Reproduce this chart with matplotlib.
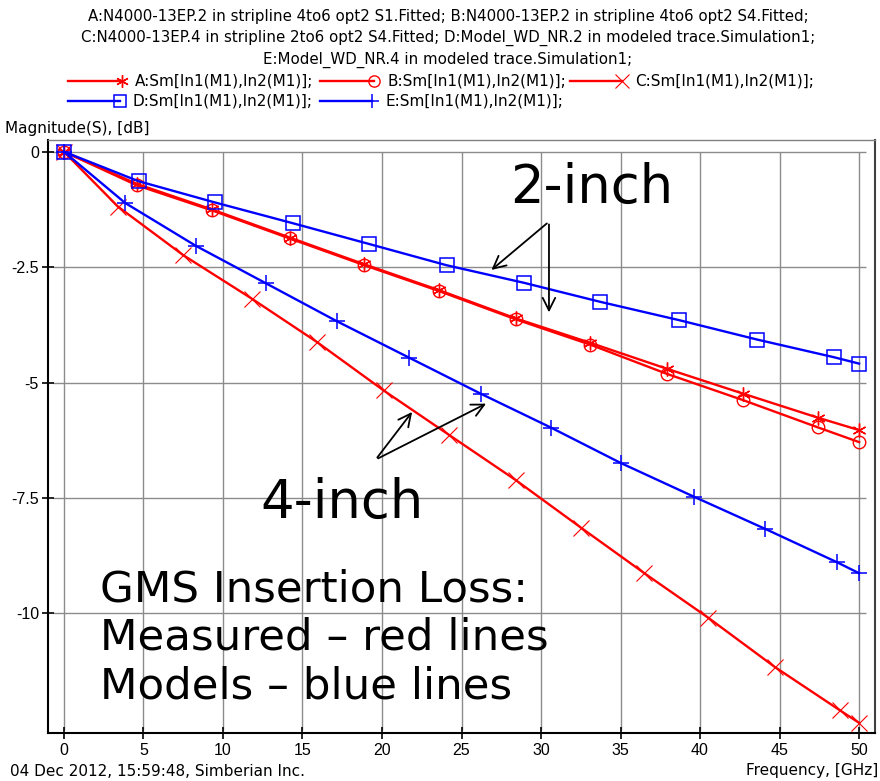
import matplotlib
matplotlib.use("Agg")
import matplotlib.pyplot as plt
from matplotlib.lines import Line2D

# Measured (red) and model (blue) insertion loss, dB vs GHz
freq_AB = [0, 4.6, 9.3, 14.2, 18.9, 23.6, 28.4, 33.1, 37.9, 42.7, 47.4, 50]
loss_A = [0, -0.70, -1.25, -1.86, -2.44, -3.00, -3.61, -4.14, -4.70, -5.24, -5.76, -6.03]
loss_B = [0, -0.73, -1.27, -1.88, -2.46, -3.02, -3.63, -4.18, -4.81, -5.38, -5.97, -6.29]

freq_C = [0, 3.4, 7.5, 11.8, 15.9, 20.1, 24.2, 28.4, 32.5, 36.5, 40.5, 44.7, 48.8, 50]
loss_C = [0, -1.19, -2.24, -3.18, -4.12, -5.17, -6.13, -7.11, -8.14, -9.13, -10.09, -11.16, -12.10, -12.37]

freq_D = [0, 4.7, 9.5, 14.4, 19.2, 24.07, 28.93, 33.7, 38.7, 43.6, 48.4, 50]
loss_D = [0, -0.64, -1.10, -1.55, -2.00, -2.46, -2.84, -3.25, -3.65, -4.07, -4.45, -4.59]

freq_E = [0, 3.85, 8.3, 12.7, 17.15, 21.7, 26.2, 30.65, 35.0, 39.6, 44.1, 48.6, 50]
loss_E = [0, -1.11, -2.04, -2.85, -3.67, -4.46, -5.24, -5.98, -6.74, -7.47, -8.17, -8.89, -9.13]

x_ticks = [0, 5, 10, 15, 20, 25, 30, 35, 40, 45, 50]
y_ticks = [0, -2.5, -5, -7.5, -10]
y_ticklabels = ["0", "-2.5", "-5", "-7.5", "-10"]

header_lines = [
    "A:N4000-13EP.2 in stripline 4to6 opt2 S1.Fitted; B:N4000-13EP.2 in stripline 4to6 opt2 S4.Fitted;",
    "C:N4000-13EP.4 in stripline 2to6 opt2 S4.Fitted; D:Model_WD_NR.2 in modeled trace.Simulation1;",
    "E:Model_WD_NR.4 in modeled trace.Simulation1;",
]
legend_label = "Sm[In1(M1),In2(M1)];"

RED = "#ff0000"
BLUE = "#0000ff"
GRID = "#8c8c8c"
SANS = "Liberation Sans"
UI = "DejaVu Sans"

W, H = 880, 781
fx = lambda px: px / W
fy = lambda py: 1 - py / H

fig = plt.figure(figsize=(8.8, 7.81), dpi=100)
ax = fig.add_axes([fx(48), fy(733), fx(875) - fx(48), fy(140) - fy(733)])

# style per series: (x, y, color, marker, markersize, markerwidth)
series = {
    "A": (freq_AB, loss_A, RED, (6, 2, 0), 10, 1.0),
    "B": (freq_AB, loss_B, RED, "o", 9, 1.0),
    "C": (freq_C, loss_C, RED, "x", 11, 0.8),
    "D": (freq_D, loss_D, BLUE, "s", 9.5, 1.1),
    "E": (freq_E, loss_E, BLUE, "+", 11, 1.1),
}
for key, (xs, ys, col, mk, ms, mw) in series.items():
    ax.plot(xs, ys, color=col, lw=1.7, marker=mk, ms=ms, mew=mw,
            mfc="none", mec=col, zorder=3)

# grid drawn only across the data area, like the original tool
ax.vlines(x_ticks, -12.53, 0, color=GRID, lw=1.0, zorder=0)
ax.hlines(y_ticks, -0.69, 50.45, color=GRID, lw=1.0, zorder=0)

ax.set_xlim(-1.0, 51.0)
ax.set_ylim(-12.59, 0.253)
ax.set_xticks(x_ticks)
ax.set_yticks(y_ticks)
ax.set_yticklabels(y_ticklabels)
ax.tick_params(direction="inout", length=9, width=1.2, labelsize=11.5, pad=2)
ax.tick_params(axis="x", pad=3)
for lab in ax.get_xticklabels() + ax.get_yticklabels():
    lab.set_fontfamily(SANS)

ax.spines["left"].set_linewidth(1.5)
ax.spines["bottom"].set_linewidth(1.5)
ax.spines["right"].set_color("#404040")
ax.spines["right"].set_linewidth(1.5)
ax.spines["top"].set_color("#808080")
ax.spines["top"].set_linewidth(1.0)

# header text and legend rows
for i, line in enumerate(header_lines):
    fig.text(fx(448), fy(16 + 22 * i), line, ha="center", va="center",
             fontsize=10.8, family=UI)

legend_rows = [
    [("A", 68, 122, 81), ("B", 320, 374, 81), ("C", 570, 622, 81)],
    [("D", 68, 120, 101), ("E", 320, 372, 101)],
]
for row in legend_rows:
    for key, x0, x1, yy in row:
        _, _, col, mk, ms, mw = series[key]
        fig.add_artist(Line2D([fx(x0), fx(x1)], [fy(yy), fy(yy)], color=col, lw=1.7,
                              transform=fig.transFigure))
        fig.add_artist(Line2D([fx(x1)], [fy(yy)], color=col, marker=mk, ms=ms * 0.9,
                              mew=mw, mfc="none", mec=col, transform=fig.transFigure))
        fig.text(fx(x1 + 13), fy(yy), f"{key}:{legend_label}", ha="left", va="center",
                 fontsize=11, family=UI)

fig.text(fx(5), fy(128), "Magnitude(S), [dB]", ha="left", va="center", fontsize=11, family=UI)
fig.text(fx(10), fy(771), "04 Dec 2012, 15:59:48, Simberian Inc.", ha="left", va="center",
         fontsize=11, family=UI)
fig.text(fx(878), fy(771), "Frequency, [GHz]", ha="right", va="center", fontsize=11, family=UI)

# annotations
big = dict(fontsize=38, family="DejaVu Sans", color="black")
ax.text(28.05, -1.11, "2-inch", ha="left", va="baseline", **big)
ax.text(12.33, -7.93, "4-inch", ha="left", va="baseline", **big)
ax.text(2.26, -9.02, "GMS Insertion Loss:\nMeasured \u2013 red lines\nModels \u2013 blue lines",
        ha="left", va="top", fontsize=31.3, family="DejaVu Sans", linespacing=1.2)

arrow = dict(arrowstyle="->,head_length=0.9,head_width=0.45", color="black", lw=1.3)
for tip in [(26.75, -2.60), (30.5, -3.54)]:
    ax.annotate("", xy=tip, xytext=(30.5, -1.515), arrowprops=arrow)
for tip in [(22.0, -5.59), (26.7, -5.43)]:
    ax.annotate("", xy=tip, xytext=(19.6, -6.67), arrowprops=arrow)

fig.savefig("out.png", dpi=100)
